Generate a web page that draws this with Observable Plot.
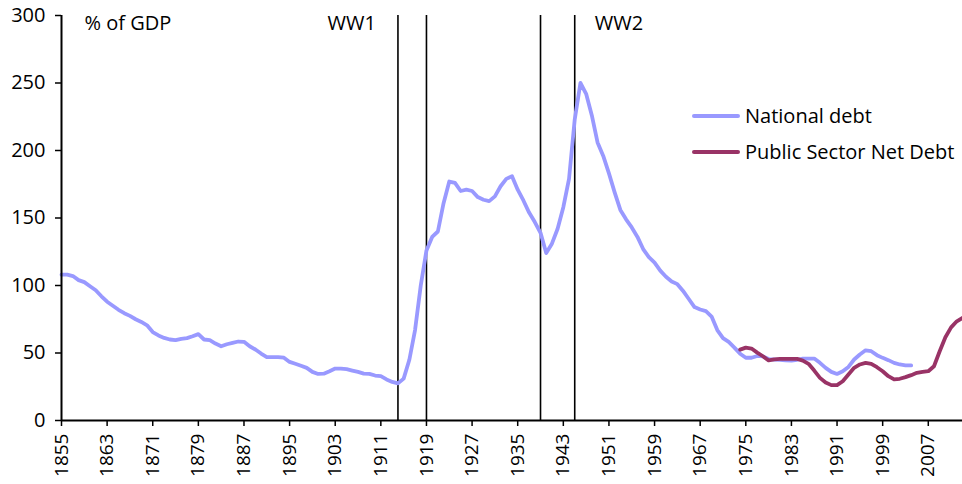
<!DOCTYPE html>
<html>
<head>
<meta charset="utf-8">
<script src="https://cdn.jsdelivr.net/npm/d3@7"></script>
<script src="https://cdn.jsdelivr.net/npm/@observablehq/plot@0.6"></script>
<style>
  html, body { margin: 0; padding: 0; background: #fff; }
  #wrap { position: relative; width: 962px; height: 484px; font-family: 'Open Sans', sans-serif; color: #000; }
  .leg { position: absolute; display: flex; align-items: center; font-size: 20px; white-space: nowrap; }
  .sw { width: 48px; height: 4px; margin-right: 5px; border-radius: 2px; }
</style>
</head>
<body>
<div id="wrap"></div>
<script>
// ---- data ----
const nationalStart = 1855;
const nationalDebt = [
  108, 108, 107, 104, 102.5, 99.5, 96.5, 92, 88, 85,
  82, 79.5, 77.5, 75, 73, 70.5, 65.5, 63, 61.2, 60,
  59.5, 60.5, 61, 62.4, 64, 60, 59.5, 57, 55, 56.5,
  57.5, 58.5, 58.3, 55, 52.6, 49.6, 47, 47, 47, 46.5,
  43.4, 42, 40.5, 39, 36, 34.5, 34.7, 36.5, 38.5, 38.5,
  38, 37, 36, 34.7, 34.5, 33.3, 32.8, 30.4, 28.6, 27.5,
  31, 45, 67, 100, 126, 136, 140, 161, 177, 176,
  170, 171, 170, 165.5, 163.5, 162.5, 166, 173.5, 179, 181,
  171, 163, 154, 147, 139, 124, 131, 142, 158, 179,
  223, 250, 242, 226, 206, 196, 183, 169, 156, 149,
  143, 136, 127, 121, 117, 111, 106.5, 103, 101, 96,
  90, 84, 82.2, 81, 77, 67, 61, 58.2, 54, 49.5,
  46.5, 46.5, 47.8, 47.5, 45.5, 45.2, 45, 44.5, 44.4, 45,
  45.9, 45.9, 45.9, 42.7, 39, 36, 34.5, 36.5, 39.7, 45.2,
  48.9, 52, 51.3, 48.4, 46.4, 44.7, 42.7, 41.5, 40.9, 40.8
];
const psndStart = 1974;
const psnd = [
  52.5, 54, 53.3, 50.3, 47.6, 44.5, 45.2, 45.6, 45.6, 45.6,
  45.6, 44.4, 42, 37, 31.6, 28.1, 26.2, 26.2, 29.1, 34.1,
  39, 41.5, 42.7, 42, 39.5, 36.5, 32.8, 30.4, 30.9, 32.1,
  33.6, 35.3, 36, 36.5, 40.2, 51.3, 61.7, 69, 73.5, 76
];
const warYears = [1914, 1919, 1939, 1945];
const warLabels = ["WW1", "WW2"];
const seriesNames = ["National debt", "Public Sector Net Debt"];
const seriesColors = ["#9999ff", "#993366"];
const xTicks = [1855, 1863, 1871, 1879, 1887, 1895, 1903, 1911, 1919, 1927, 1935, 1943, 1951, 1959, 1967, 1975, 1983, 1991, 1999, 2007];
const yTicks = [0, 50, 100, 150, 200, 250, 300];
const yLabel = "% of GDP";
const xDomain = [1855, 2013];

const national = nationalDebt.map((v, i) => ({year: nationalStart + i, value: v}));
const net = psnd.map((v, i) => ({year: psndStart + i, value: v}));

const chart = Plot.plot({
  width: 962,
  height: 484,
  marginLeft: 61,
  marginRight: 0,
  marginTop: 15,
  marginBottom: 64,
  style: {fontFamily: "'Open Sans', sans-serif", fontSize: "19px", color: "#000", background: "#fff", overflow: "visible"},
  x: {domain: xDomain, label: null},
  y: {domain: [0, 300], label: null},
  marks: [
    Plot.axisX({ticks: xTicks, tickFormat: d => String(d), tickRotate: -90, tickSize: 6, tickPadding: 7, strokeWidth: 1.5, fontSize: 19}),
    Plot.axisY({ticks: yTicks, tickSize: 6, tickPadding: 10, strokeWidth: 1.5, fontSize: 20}),
    Plot.ruleX(warYears, {stroke: "#000", strokeWidth: 1.6}),
    Plot.line(national, {x: "year", y: "value", stroke: seriesColors[0], strokeWidth: 3.8}),
    Plot.line(net, {x: "year", y: "value", stroke: seriesColors[1], strokeWidth: 3.8}),
    Plot.ruleY([0], {stroke: "#000", strokeWidth: 2}),
    Plot.ruleX([xDomain[0]], {stroke: "#000", strokeWidth: 2}),
    Plot.text([yLabel], {frameAnchor: "top-left", textAnchor: "start", lineAnchor: "top", dx: 23, dy: 0, fontSize: 20}),
    Plot.text([warLabels[0]], {x: () => warYears[0], frameAnchor: "top", textAnchor: "end", lineAnchor: "top", dx: -22, dy: 0, fontSize: 20}),
    Plot.text([warLabels[1]], {x: () => warYears[3], frameAnchor: "top", textAnchor: "start", lineAnchor: "top", dx: 20, dy: 0, fontSize: 20})
  ]
});

const wrap = document.getElementById("wrap");
wrap.appendChild(chart);

seriesNames.forEach((name, i) => {
  const item = document.createElement("div");
  item.className = "leg";
  item.style.left = "692px";
  item.style.top = (102 + i * 36) + "px";
  const sw = document.createElement("div");
  sw.className = "sw";
  sw.style.background = seriesColors[i];
  const label = document.createElement("span");
  label.textContent = name;
  item.appendChild(sw);
  item.appendChild(label);
  wrap.appendChild(item);
});
</script>
</body>
</html>
